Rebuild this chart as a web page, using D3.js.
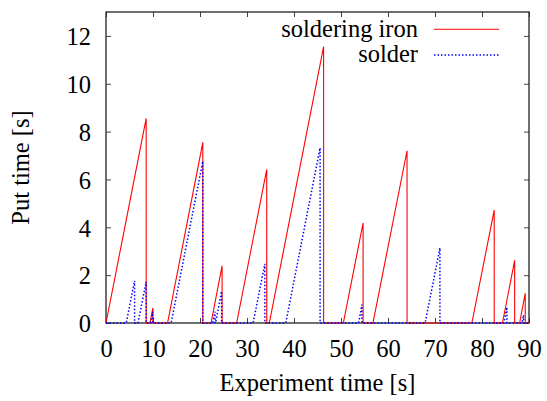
<!DOCTYPE html>
<html>
<head>
<meta charset="utf-8">
<script src="https://cdn.jsdelivr.net/npm/d3@7"></script>
</head>
<body style="margin:0;padding:0;background:#fff;">
<svg id="chart" width="547" height="401" font-family="Liberation Serif" style="display:block;font-family:'Liberation Serif'"></svg>
<script>
// ---- data ----
const xTicks = [0,10,20,30,40,50,60,70,80,90];
const yTicks = [0,2,4,6,8,10,12];
const seriesNames = ["soldering iron","solder"];

const ironTime = [0, 8.55, 8.55, 9.35, 9.97, 9.97, 13.1, 20.6, 20.6, 22.35, 24.7, 24.7,
  27.8, 34.2, 34.2, 34.75, 46.3, 46.3, 50.5, 54.7, 54.7, 56.8, 64.05, 64.05,
  77.85, 82.6, 82.6, 84.35, 86.95, 86.95, 88.0, 89.2, 89.2, 90];
const ironPut = [0, 8.55, 0, 0, 0.63, 0, 0, 7.55, 0, 0, 2.39, 0,
  0, 6.42, 0, 0, 11.55, 0, 0, 4.18, 0, 0, 7.2, 0,
  0, 4.72, 0, 0, 2.62, 0, 0, 1.24, 0, 0];

const solderTime = [0, 4.3, 6.08, 6.08, 6.8, 8.55, 8.55, 9.5, 9.97, 9.97, 13.86, 20.6, 20.6,
  22.7, 23.2, 23.2, 23.3, 24.6, 24.6, 31.3, 33.8, 33.8, 38.25, 45.55, 45.55,
  53.75, 54.45, 54.45, 67.9, 71.05, 71.05, 84.65, 85.3, 85.3, 88.5, 88.85, 88.85, 90];
const solderPut = [0, 0, 1.76, 0, 0, 1.72, 0, 0, 0.47, 0, 0, 6.76, 0,
  0, 0.47, 0, 0, 1.33, 0, 0, 2.47, 0, 0, 7.32, 0,
  0, 0.77, 0, 0, 3.14, 0, 0, 0.66, 0, 0, 0.33, 0, 0];

// ---- layout ----
const svg = d3.select("#chart");
const L = 106, R = 529, T = 12, B = 323;
const FS = 24.5;
const x = d3.scaleLinear().domain([0,90]).range([L,R]);
const y = d3.scaleLinear().domain([0,13]).range([B,T]);

function styleAxis(g){
  g.attr("font-family", null).attr("font-size", null);
  g.select(".domain").remove();
  g.selectAll(".tick line").attr("stroke","#444").attr("stroke-width",1);
}

// bottom axis
svg.append("g").attr("transform",`translate(0,${B})`)
  .call(d3.axisBottom(x).tickValues(xTicks).tickSizeInner(-5).tickSizeOuter(0).tickPadding(16.6))
  .call(styleAxis);
// top axis (mirror)
svg.append("g").attr("transform",`translate(0,${T})`)
  .call(d3.axisTop(x).tickValues(xTicks).tickSizeInner(-5).tickSizeOuter(0).tickFormat(""))
  .call(styleAxis);
// left axis
svg.append("g").attr("transform",`translate(${L},0)`)
  .call(d3.axisLeft(y).tickValues(yTicks).tickSizeInner(-5).tickSizeOuter(0).tickPadding(15))
  .call(styleAxis)
  .call(g=>g.selectAll(".tick text").attr("dy","0.36em"));
// right axis (mirror)
svg.append("g").attr("transform",`translate(${R},0)`)
  .call(d3.axisRight(y).tickValues(yTicks).tickSizeInner(-5).tickSizeOuter(0).tickFormat(""))
  .call(styleAxis);

// border
svg.append("rect").attr("x",L).attr("y",T).attr("width",R-L).attr("height",B-T)
  .attr("fill","none").attr("stroke","#222").attr("stroke-width",1.3);

// lines
const line = d3.line().x(d=>x(d[0])).y(d=>y(d[1]));
const ironData = ironTime.map((t,i)=>[t, ironPut[i]]);
const solderData = solderTime.map((t,i)=>[t, solderPut[i]]);

svg.append("path").datum(ironData).attr("d",line)
  .attr("fill","none").attr("stroke","#ff0000").attr("stroke-width",1.1);
svg.append("path").datum(solderData).attr("d",line)
  .attr("fill","none").attr("stroke","#0000ff").attr("stroke-width",1.5)
  .attr("stroke-dasharray","1.5,2");

// legend
const legend = svg.append("g");
legend.append("text").attr("x",418).attr("y",37.3).attr("text-anchor","end").text(seriesNames[0]);
legend.append("line").attr("x1",434).attr("x2",499).attr("y1",29.3).attr("y2",29.3)
  .attr("stroke","#ff0000").attr("stroke-width",1.1);
legend.append("text").attr("x",418).attr("y",62.3).attr("text-anchor","end").text(seriesNames[1]);
legend.append("line").attr("x1",434).attr("x2",499).attr("y1",55).attr("y2",55)
  .attr("stroke","#0000ff").attr("stroke-width",1.5).attr("stroke-dasharray","1.5,2");

// axis titles
svg.append("text").attr("x",(L+R)/2).attr("y",391).attr("text-anchor","middle").text("Experiment time [s]");
svg.append("text").attr("transform",`translate(28.5,${(T+B)/2}) rotate(-90)`)
  .attr("text-anchor","middle").text("Put time [s]");

// font for every text
svg.selectAll("text")
  .attr("font-family","Liberation Serif")
  .attr("style","font-family:'Liberation Serif';font-size:" + FS + "px;fill:#000");
</script>
</body>
</html>
